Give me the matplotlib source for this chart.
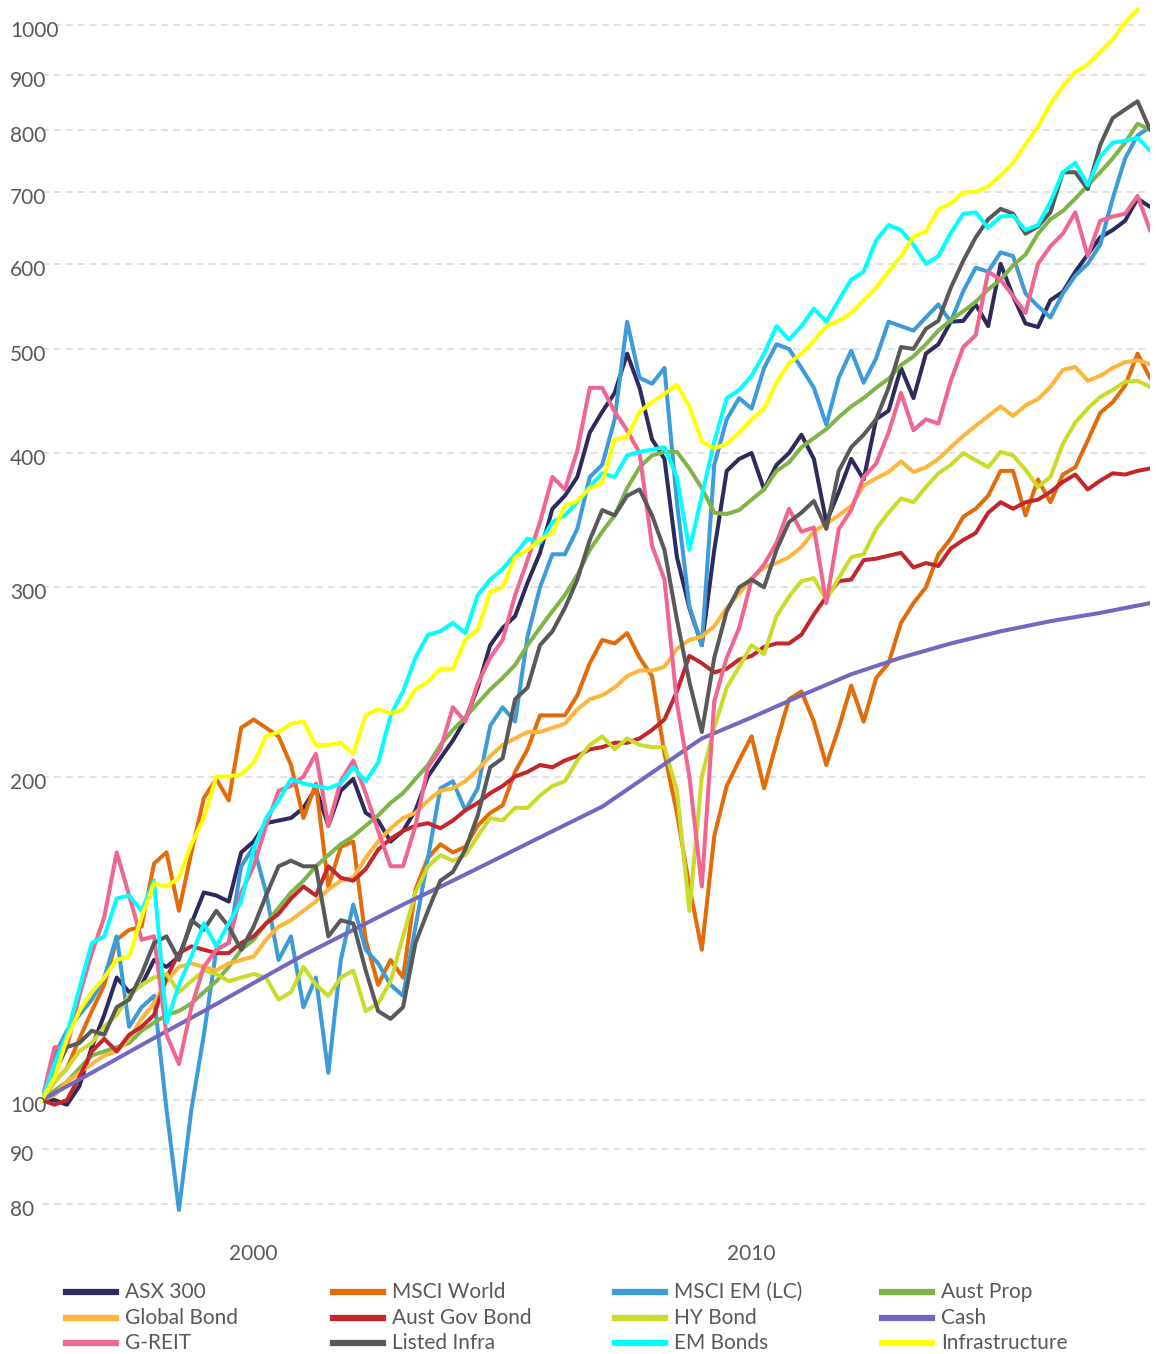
import numpy as np
import matplotlib
matplotlib.use("Agg")
import matplotlib.pyplot as plt
from matplotlib import transforms
from matplotlib.lines import Line2D
from matplotlib.ticker import NullLocator, NullFormatter

plt.rcParams['font.family'] = ['Lato', 'DejaVu Sans']

W, H = 1156, 1354

# growth of 100, quarterly readings from Oct 1995
dates = 1995.75 + 0.25 * np.arange(90)

asx_300 = [100, 100, 99, 103, 112, 120, 130, 126, 128, 135,
           133, 136, 146, 156, 155, 153, 170, 174, 181, 182,
           183, 187, 195, 180, 194, 199, 185, 182, 174, 178,
           186, 200, 208, 216, 226, 242, 265, 275, 282, 303,
           323, 355, 365, 380, 418, 437, 455, 495, 460, 412,
           395, 320, 287, 265, 325, 385, 395, 400, 370, 390,
           400, 416, 395, 345, 368, 395, 378, 430, 438, 480,
           450, 495, 505, 530, 531, 550, 525, 600, 560, 528,
           524, 555, 565, 590, 612, 635, 645, 658, 690, 678]

msci_world = [100, 104, 107, 114, 121, 128, 141, 144, 145, 166,
              170, 150, 170, 191, 199, 190, 222, 226, 222, 218,
              205, 183, 197, 158, 172, 174, 141, 128, 135, 130,
              157, 168, 173, 170, 172, 180, 185, 188, 202, 212,
              228, 228, 228, 238, 255, 268, 266, 272, 258, 248,
              210, 185, 158, 138, 176, 196, 207, 218, 195, 215,
              236, 240, 225, 205, 222, 243, 225, 247, 255, 278,
              290, 300, 322, 333, 349, 355, 365, 385, 385, 350,
              378, 360, 382, 388, 411, 436, 446, 462, 495, 470]

msci_em = [100, 110, 116, 120, 124, 130, 142, 117, 122, 125,
           98, 79, 98, 115, 138, 140, 165, 172, 156, 135,
           142, 122, 130, 106, 135, 152, 138, 134, 128, 125,
           145, 168, 195, 198, 186, 195, 223, 232, 225, 270,
           300, 322, 322, 340, 380, 390, 430, 530, 470, 464,
           480, 360, 288, 265, 390, 430, 450, 440, 480, 505,
           500, 480, 460, 425, 470, 498, 465, 490, 530, 525,
           520, 535, 550, 530, 566, 595, 590, 615, 610, 563,
           548, 535, 563, 585, 600, 625, 690, 752, 790, 804]

aust_prop = [100, 102, 104, 107, 110, 111, 112, 113, 116, 118,
             120, 121, 123, 126, 129, 133, 138, 141, 146, 151,
             156, 160, 165, 169, 173, 176, 180, 184, 189, 193,
             199, 205, 214, 221, 227, 234, 241, 247, 254, 265,
             275, 285, 295, 308, 325, 338, 350, 371, 388, 398,
             401, 401, 387, 371, 352, 351, 354, 362, 370, 385,
             392, 405, 413, 421, 432, 442, 450, 460, 469, 483,
             492, 505, 520, 532, 542, 553, 568, 580, 598, 612,
             640, 660, 672, 690, 710, 730, 752, 778, 810, 800]

global_bond = [100, 101, 104, 106, 108, 110, 111, 114, 119, 123,
               129, 133, 134, 133, 132, 134, 135, 136, 141, 145,
               147, 150, 153, 157, 160, 161, 168, 174, 179, 183,
               185, 190, 194, 195, 198, 203, 209, 214, 217, 220,
               220, 222, 224, 231, 236, 238, 242, 248, 251, 251,
               253, 263, 268, 270, 276, 287, 296, 306, 313, 316,
               320, 327, 338, 344, 350, 357, 373, 379, 384, 393,
               384, 388, 395, 405, 415, 424, 433, 442, 433, 443,
               449, 461, 478, 481, 467, 472, 480, 486, 488, 484]

aust_gov_bond = [100, 99, 100, 105, 111, 114, 111, 115, 117, 120,
                 130, 137, 139, 138, 137, 137, 140, 142, 146, 149,
                 154, 158, 155, 165, 161, 160, 164, 171, 175, 178,
                 180, 181, 179, 182, 186, 189, 193, 196, 200, 202,
                 205, 204, 207, 209, 212, 213, 215, 215, 217, 221,
                 226, 240, 259, 255, 250, 252, 257, 259, 264, 266,
                 266, 271, 283, 294, 304, 305, 318, 319, 321, 323,
                 313, 316, 314, 326, 332, 337, 352, 360, 355, 360,
                 362, 368, 376, 382, 370, 377, 383, 382, 385, 387]

hy_bond = [100, 104, 107, 111, 113, 117, 120, 125, 128, 130,
           131, 126, 129, 132, 131, 129, 130, 131, 130, 124,
           126, 133, 128, 125, 130, 132, 121, 123, 129, 142,
           156, 165, 169, 167, 169, 176, 183, 182, 187, 187,
           192, 196, 198, 207, 214, 218, 212, 217, 214, 213,
           213, 194, 150, 200, 222, 242, 253, 265, 260, 282,
           294, 304, 306, 292, 306, 320, 322, 340, 352, 363,
           360, 372, 383, 390, 400, 394, 388, 401, 398, 386,
           372, 380, 408, 427, 440, 451, 458, 466, 467, 461]

g_reit = [100, 112, 112, 125, 137, 148, 170, 155, 141, 142,
          115, 108, 122, 133, 138, 140, 156, 165, 180, 194,
          196, 200, 210, 180, 198, 207, 193, 178, 165, 165,
          180, 204, 212, 232, 225, 244, 258, 268, 295, 318,
          345, 380, 370, 402, 460, 460, 437, 420, 400, 328,
          305, 234, 200, 158, 235, 258, 275, 305, 315, 330,
          355, 338, 341, 290, 340, 354, 380, 391, 418, 455,
          420, 430, 426, 467, 502, 515, 590, 580, 560, 540,
          600, 623, 640, 670, 610, 658, 664, 668, 694, 645]

listed_infra = [100, 106, 112, 113, 116, 115, 122, 124, 131, 140,
                142, 135, 147, 144, 150, 145, 138, 145, 155, 165,
                167, 165, 165, 142, 147, 146, 132, 121, 119, 122,
                140, 150, 160, 163, 171, 184, 204, 208, 236, 242,
                265, 273, 287, 305, 332, 354, 350, 365, 370, 350,
                325, 280, 245, 220, 258, 285, 300, 305, 300, 325,
                345, 352, 361, 340, 385, 405, 416, 430, 460, 502,
                500, 522, 531, 570, 604, 635, 660, 675, 668, 640,
                650, 670, 730, 730, 704, 774, 820, 835, 850, 800]

em_bonds = [100, 108, 115, 127, 140, 142, 154, 155, 150, 160,
            118, 128, 136, 146, 139, 146, 153, 171, 183, 190,
            199, 197, 196, 195, 197, 204, 198, 206, 228, 240,
            258, 271, 273, 278, 272, 295, 305, 312, 322, 333,
            330, 345, 350, 360, 372, 383, 380, 398, 401, 403,
            405, 380, 325, 365, 410, 450, 458, 472, 495, 525,
            510, 525, 545, 530, 555, 580, 590, 631, 652, 645,
            625, 600, 610, 641, 668, 670, 648, 664, 665, 645,
            652, 685, 730, 745, 710, 755, 778, 781, 786, 765]

infrastructure = [100, 105, 114, 121, 126, 130, 135, 136, 148, 159,
                  158, 161, 173, 183, 200, 200, 201, 206, 218, 220,
                  224, 225, 214, 214, 215, 210, 228, 231, 229, 231,
                  241, 245, 252, 252, 268, 274, 297, 300, 320, 325,
                  332, 337, 357, 361, 371, 375, 412, 414, 437, 446,
                  454, 463, 442, 410, 404, 408, 418, 430, 440, 465,
                  485, 495, 509, 525, 531, 540, 555, 570, 590, 610,
                  636, 643, 674, 683, 699, 700, 708, 725, 745, 775,
                  805, 845, 878, 905, 920, 945, 970, 1006, 1035, np.nan]

# cash is smooth, read yearly
cash_dates = [1995.75, 1997, 1998, 1999, 2000, 2001, 2002, 2003, 2004, 2005, 2006,
              2007, 2008, 2009, 2010, 2011, 2012, 2013, 2014, 2015, 2016, 2017, 2018]
cash = [100, 107.6, 114.2, 121, 128.5, 136.4, 144, 152, 160, 168.7, 177.9,
        187.5, 201.7, 217, 227, 238, 249, 258, 266, 273, 279, 284, 290]

names = ["ASX 300", "MSCI World", "MSCI EM (LC)", "Aust Prop",
         "Global Bond", "Aust Gov Bond", "HY Bond", "Cash",
         "G-REIT", "Listed Infra", "EM Bonds", "Infrastructure"]
colors = ["#2d2a5e", "#e36c0a", "#3c9bd8", "#7fb548",
          "#fdb53c", "#c3272d", "#cbdb2a", "#7367c0",
          "#ef6690", "#595959", "#00ffff", "#ffff00"]
values = [asx_300, msci_world, msci_em, aust_prop,
          global_bond, aust_gov_bond, hy_bond, cash,
          g_reit, listed_infra, em_bonds, infrastructure]

yticks = [80, 90, 100, 200, 300, 400, 500, 600, 700, 800, 900, 1000]

fig = plt.figure(figsize=(W / 100, H / 100), dpi=100)
ax = fig.add_axes([42 / W, 1 - 1222 / H, (1150 - 42) / W, 1222 / H])

for name, vals, c in zip(names, values, colors):
    x = cash_dates if name == "Cash" else dates
    ax.plot(x, vals, color=c, lw=2.9, label=name)

ax.set_yscale('log')
ax.set_ylim(77.0, 1056)
ax.set_xlim(1995.75, 2018.0)

ax.set_yticks(yticks)
ax.yaxis.set_minor_locator(NullLocator())
ax.yaxis.set_minor_formatter(NullFormatter())
ax.tick_params(axis='y', length=0, labelleft=False)
ax.yaxis.grid(True, color='#d9d9d9', linestyle=(0, (4.5, 3.3)), lw=1.1)
ax.set_axisbelow(True)

# y labels sit left aligned at the figure edge, a bit under the grid line
trans = transforms.blended_transform_factory(fig.transFigure, ax.transData)
trans = trans + transforms.ScaledTranslation(0, -6 / 100, fig.dpi_scale_trans)
for v in yticks:
    ax.text(10 / W, v, str(v), transform=trans, ha='left', va='center',
            fontsize=15, color='#595959', clip_on=False)

ax.set_xticks([2000, 2010])
ax.set_xticklabels(['2000', '2010'])
ax.tick_params(axis='x', length=0, pad=16, labelsize=15, labelcolor='#595959')

for s in ax.spines.values():
    s.set_visible(False)

# legend, 4 across, 3 rows
col_x = [66, 333, 615, 882]
row_y = [1292, 1318, 1343]
for i, (name, c) in enumerate(zip(names, colors)):
    r, k = divmod(i, 4)
    x0 = col_x[k]
    y = 1 - row_y[r] / H
    fig.add_artist(Line2D([x0 / W, (x0 + 50) / W], [y, y], color=c, lw=4.5,
                          transform=fig.transFigure))
    fig.text((x0 + 59) / W, y, name, ha='left', va='center', fontsize=15,
             color='#595959')

fig.savefig('out.png', dpi=100)
